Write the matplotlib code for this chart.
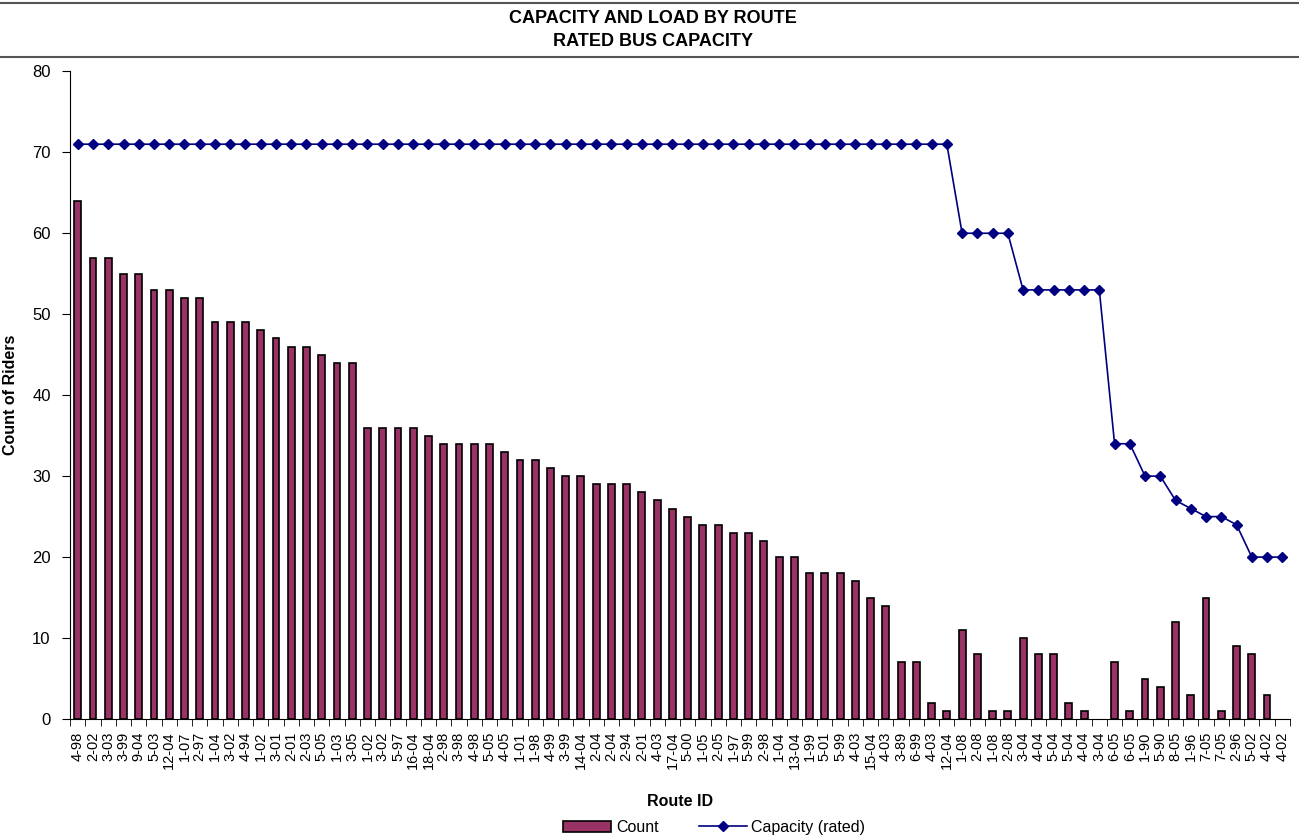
import numpy as np
import matplotlib.pyplot as plt
from matplotlib.lines import Line2D

plt.rcParams['font.family'] = ['Liberation Sans', 'DejaVu Sans']

# route ids, in order of decreasing load within capacity group
routes = ["4-98", "2-02", "3-03", "3-99", "9-04", "5-03", "12-04", "1-07", "2-97", "1-04",
          "3-02", "4-94", "1-02", "3-01", "2-01", "2-03", "5-05", "1-03", "3-05", "1-02",
          "3-02", "5-97", "16-04", "18-04", "2-98", "3-98", "4-98", "5-05", "4-05", "1-01",
          "1-98", "4-99", "3-99", "14-04", "2-04", "2-04", "2-94", "2-01", "4-03", "17-04",
          "5-00", "1-05", "2-05", "1-97", "5-99", "2-98", "1-04", "13-04", "1-99", "5-01",
          "5-99", "4-03", "15-04", "4-03", "3-89", "6-99", "4-03", "12-04", "1-08", "2-08",
          "1-08", "2-08", "3-04", "4-04", "5-04", "5-04", "4-04", "3-04", "6-05", "6-05",
          "1-90", "5-90", "8-05", "1-96", "7-05", "7-05", "2-96", "5-02", "4-02", "4-02"]

count = [64, 57, 57, 55, 55, 53, 53, 52, 52, 49,
         49, 49, 48, 47, 46, 46, 45, 44, 44, 36,
         36, 36, 36, 35, 34, 34, 34, 34, 33, 32,
         32, 31, 30, 30, 29, 29, 29, 28, 27, 26,
         25, 24, 24, 23, 23, 22, 20, 20, 18, 18,
         18, 17, 15, 14, 7, 7, 2, 1, 11, 8,
         1, 1, 10, 8, 8, 2, 1, 0, 7, 1,
         5, 4, 12, 3, 15, 1, 9, 8, 3, 0]

capacity = [71] * 58 + [60] * 4 + [53] * 6 + [34, 34, 30, 30, 27, 26, 25, 25, 24, 20, 20, 20]

x = np.arange(len(routes))

fig = plt.figure(figsize=(12.99, 8.39), dpi=100)
ax = fig.add_axes([0.054, 0.143, 0.939, 0.772])

# empty routes get no outline at all
edge_w = [1.2 if c > 0 else 0 for c in count]
ax.bar(x, count, width=0.45, color='#993366', edgecolor='black', linewidth=edge_w, zorder=2)
ax.plot(x, capacity, color='#000080', lw=1.2, marker='D', ms=5.5, zorder=3)

ax.set_xlim(-0.5, len(routes) - 0.5)
ax.set_ylim(0, 80)
ax.set_yticks(range(0, 81, 10))
ax.tick_params(axis='y', direction='out', length=6, labelsize=12, pad=8)

# labels at category centres, tick marks at category boundaries
ax.set_xticks(x)
ax.set_xticklabels(routes, rotation=90, fontsize=10.5)
ax.tick_params(axis='x', which='major', length=0, pad=9)
ax.set_xticks(np.arange(-0.5, len(routes)), minor=True)
ax.tick_params(axis='x', which='minor', direction='out', length=5)

for s in ['top', 'right']:
    ax.spines[s].set_visible(False)

ax.set_ylabel('Count of Riders', fontsize=11.5, fontweight='bold', labelpad=10)
ax.set_xlabel('Route ID', fontsize=11.5, fontweight='bold', labelpad=18)

# title band
fig.add_artist(Line2D([0, 1], [0.996, 0.996], color='#555555', lw=1.5))
fig.add_artist(Line2D([0, 1], [0.932, 0.932], color='#555555', lw=1.5))
fig.text(0.503, 0.978, 'CAPACITY AND LOAD BY ROUTE', ha='center', va='center',
         fontsize=13, fontweight='bold')
fig.text(0.503, 0.950, 'RATED BUS CAPACITY', ha='center', va='center',
         fontsize=13, fontweight='bold')

handles = [plt.Rectangle((0, 0), 1, 1, facecolor='#993366', edgecolor='black', lw=1.2),
           Line2D([], [], color='#000080', lw=1.2, marker='D', ms=5.5)]
fig.legend(handles, ['Count', 'Capacity (rated)'], loc='center', bbox_to_anchor=(0.55, 0.014),
           ncol=2, frameon=False, fontsize=11.5, handlelength=3, columnspacing=2.5,
           handletextpad=0.3)

fig.savefig('out.png', dpi=100)
